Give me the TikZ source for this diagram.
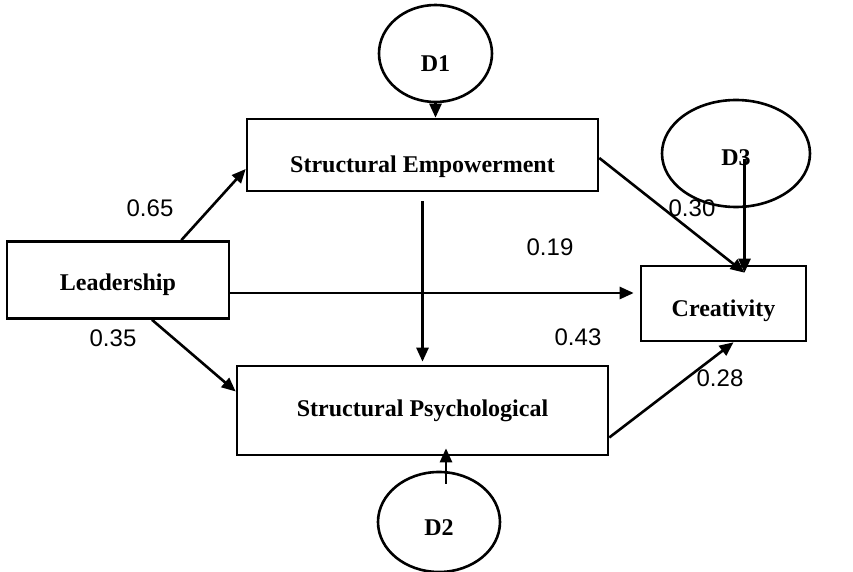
\documentclass[tikz,border=0pt]{standalone}
\usepackage{fontspec}
\setmainfont{Liberation Serif}
\newfontfamily\numfont{Liberation Sans}
\usetikzlibrary{calc,shapes.geometric,arrows.meta}

\begin{document}
\begin{tikzpicture}[x=0.5pt, y=-0.5pt, line width=1.3pt, >={Triangle[length=7pt,width=6pt]}]
        \tikzstyle{every node}=[inner sep=0pt, font=\fontsize{12}{14}\selectfont\bfseries]
        \tikzstyle{var}=[draw, rectangle, text depth=2.6pt]
        \tikzstyle{dist}=[draw, ellipse, text depth=0pt]
        \tikzstyle{coef}=[font=\fontsize{12}{14}\selectfont\numfont]
        \useasboundingbox (0,0) rectangle (853,572);
        % boxes
        \node [var, minimum width=111pt, minimum height=38.5pt, text height=13.5pt] (lead) at (118,280) {Leadership};
        \node [var, minimum width=175.5pt, minimum height=36pt, text height=20.5pt] (emp) at (422.5,155) {Structural Empowerment};
        \node [var, minimum width=185.5pt, minimum height=44.5pt, text height=8.5pt] (psy) at (422.5,410.5) {Structural Psychological};
        \node [var, minimum width=82.5pt, minimum height=37.5pt, text height=15.5pt] (crea) at (723.5,303.5) {Creativity};
        % disturbances
        \node [dist, minimum width=56.5pt, minimum height=48.5pt, text height=18pt] (d1) at (435.5,53.5) {D1};
        \node [dist, minimum width=74pt, minimum height=53.5pt, text height=12pt] (d3) at (736,153.5) {D3};
        \node [dist, minimum width=61pt, minimum height=50pt, text height=14pt] (d2) at (439,522) {D2};
        \coordinate (meet) at ([xshift=10.5pt,yshift=-4pt]crea.north);
        % paths
        \draw [->] ([xshift=-24.5pt]lead.north east) -- ([yshift=-7pt]emp.west);
        \draw [->] ([xshift=17pt]lead.south) -- ([yshift=9.5pt]psy.west);
        \draw [->, shorten >=3pt] ([yshift=-6.5pt]lead.east) -- ([yshift=-6.5pt]lead.east -| crea.west);
        \draw [->, shorten <=4.5pt, shorten >=1.5pt] (emp.south) -- (psy.north);
        \draw [->] ([yshift=-1.5pt]emp.east) -- (meet);
        \draw [->] ([yshift=-3pt]meet |- d3.center) -- (meet);
        \draw [->] ([yshift=-13.5pt]psy.east) -- ([xshift=5pt]crea.south);
        \draw [->] (d1.south) -- (d1.south |- emp.north);
        \draw [->] ($(d2.north)+(3.5pt,-6.5pt)$) -- ($(d2.north |- psy.south)+(3.5pt,4pt)$);
        % coefficients
        \node [coef] (c1) at (150,208) {0.65};
        \node [coef] (c2) at (113,338) {0.35};
        \node [coef] (c3) at (550,247) {0.19};
        \node [coef] (c4) at (692,208) {0.30};
        \node [coef] (c5) at (578,337) {0.43};
        \node [coef] (c6) at (720,378) {0.28};
\end{tikzpicture}
\end{document}
